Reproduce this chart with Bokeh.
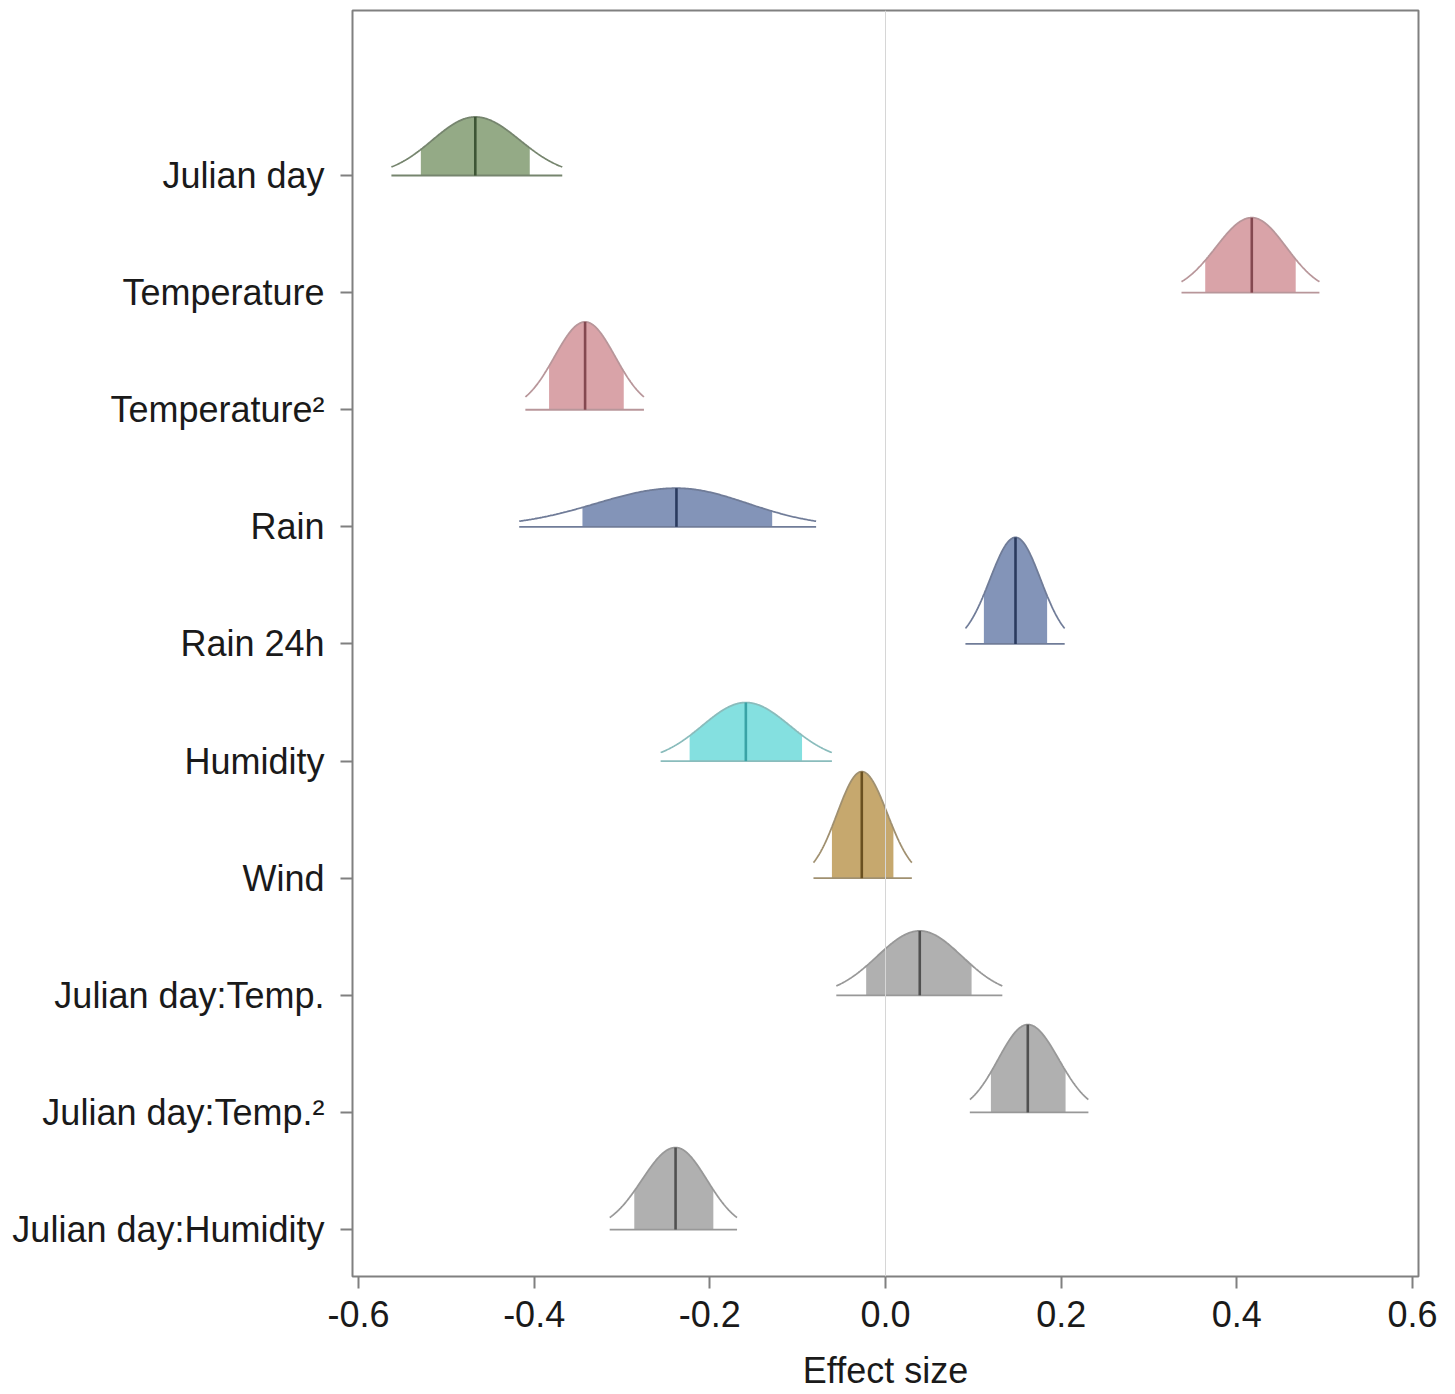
import numpy as np
from bokeh.plotting import figure
from bokeh.models import Range1d, FixedTicker, PrintfTickFormatter, Span
from bokeh.embed import file_html
from bokeh.resources import INLINE

# ---- data, top to bottom ----
variables = ["Julian day", "Temperature", "Temperature\u00b2", "Rain", "Rain 24h",
             "Humidity", "Wind", "Julian day:Temp.", "Julian day:Temp.\u00b2",
             "Julian day:Humidity"]
medians   = [-0.467, 0.417, -0.342, -0.238, 0.148, -0.159, -0.027, 0.039, 0.162, -0.239]
inner_lo  = [-0.529, 0.364, -0.383, -0.345, 0.112, -0.223, -0.061, -0.022, 0.120, -0.286]
inner_hi  = [-0.405, 0.467, -0.298, -0.129, 0.184, -0.095, 0.009, 0.098, 0.205, -0.196]
outer_lo  = [-0.5625, 0.337, -0.410, -0.417, 0.091, -0.256, -0.082, -0.056, 0.096, -0.314]
outer_hi  = [-0.368, 0.494, -0.275, -0.079, 0.204, -0.061, 0.030, 0.133, 0.231, -0.169]
peak_height = [0.50, 0.64, 0.75, 0.33, 0.91, 0.50, 0.91, 0.55, 0.75, 0.70]  # in row units

fill_colors   = ["#94AA86", "#D9A3A8", "#D9A3A8", "#8394B8", "#8394B8",
                 "#84E0E0", "#C6A86E", "#B0B0B0", "#B0B0B0", "#B0B0B0"]
line_colors   = ["#76856E", "#B8969A", "#B8969A", "#707C98", "#707C98",
                 "#8ABCBC", "#A09070", "#989898", "#989898", "#989898"]
median_colors = ["#3D5535", "#844850", "#844850", "#2A3A5E", "#2A3A5E",
                 "#3AA3A6", "#6A5020", "#505050", "#505050", "#505050"]

x_ticks = [-0.6, -0.4, -0.2, 0.0, 0.2, 0.4, 0.6]
x_title = "Effect size"

FONT = "Liberation Sans"

p = figure(width=1447, height=1394, output_backend="svg", toolbar_location=None,
           x_range=Range1d(-0.6068, 0.6068), y_range=Range1d(0.599, 11.409),
           min_border_left=352, min_border_top=10, min_border_right=29,
           min_border_bottom=118)
p.grid.visible = False
p.outline_line_color = "#808080"
p.outline_line_width = 2
p.background_fill_color = "white"
p.border_fill_color = "white"

# zero line
p.add_layout(Span(location=0, dimension="height", line_color="#D6D6D6", line_width=1))

n = len(variables)
for i in range(n):
    base = n - i
    m = medians[i]
    sl = (m - outer_lo[i]) / 1.96
    sr = (outer_hi[i] - m) / 1.96
    xs = np.linspace(outer_lo[i], outer_hi[i], 300)
    sig = np.where(xs < m, sl, sr)
    dens = peak_height[i] * np.exp(-0.5 * ((xs - m) / sig) ** 2)
    # shaded inner interval
    xi = np.linspace(inner_lo[i], inner_hi[i], 200)
    sigi = np.where(xi < m, sl, sr)
    di = peak_height[i] * np.exp(-0.5 * ((xi - m) / sigi) ** 2)
    p.varea(x=xi, y1=np.full_like(xi, base), y2=base + di, fill_color=fill_colors[i])
    # baseline
    p.segment(x0=[outer_lo[i]], y0=[base], x1=[outer_hi[i]], y1=[base],
              line_color=line_colors[i], line_width=1.8)
    # curve
    p.line(xs, base + dens, line_color=line_colors[i], line_width=1.8)
    # median
    p.segment(x0=[m], y0=[base], x1=[m], y1=[base + peak_height[i]],
              line_color=median_colors[i], line_width=2.6)

# x axis
xa = p.xaxis[0]
xa.ticker = FixedTicker(ticks=x_ticks)
xa.formatter = PrintfTickFormatter(format="%.1f")
xa.axis_line_color = None
xa.major_tick_line_color = "#808080"
xa.major_tick_line_width = 2
xa.major_tick_out = 12
xa.major_tick_in = 0
xa.minor_tick_line_color = None
xa.major_label_text_font = FONT
xa.major_label_text_font_size = "36px"
xa.major_label_text_color = "#1A1A1A"
xa.major_label_standoff = 12
xa.axis_label = x_title
xa.axis_label_text_font = FONT
xa.axis_label_text_font_size = "36px"
xa.axis_label_text_font_style = "normal"
xa.axis_label_text_color = "#1A1A1A"
xa.axis_label_standoff = 20

# y axis
ya = p.yaxis[0]
ticks = list(range(n, 0, -1))
ya.ticker = FixedTicker(ticks=ticks)
ya.major_label_overrides = {t: variables[i] for i, t in enumerate(ticks)}
ya.axis_line_color = None
ya.major_tick_line_color = "#808080"
ya.major_tick_line_width = 2
ya.major_tick_out = 12
ya.major_tick_in = 0
ya.minor_tick_line_color = None
ya.major_label_text_font = FONT
ya.major_label_text_font_size = "36px"
ya.major_label_text_color = "#1A1A1A"
ya.major_label_standoff = 16

open("out.html", "w").write(file_html(p, INLINE))
